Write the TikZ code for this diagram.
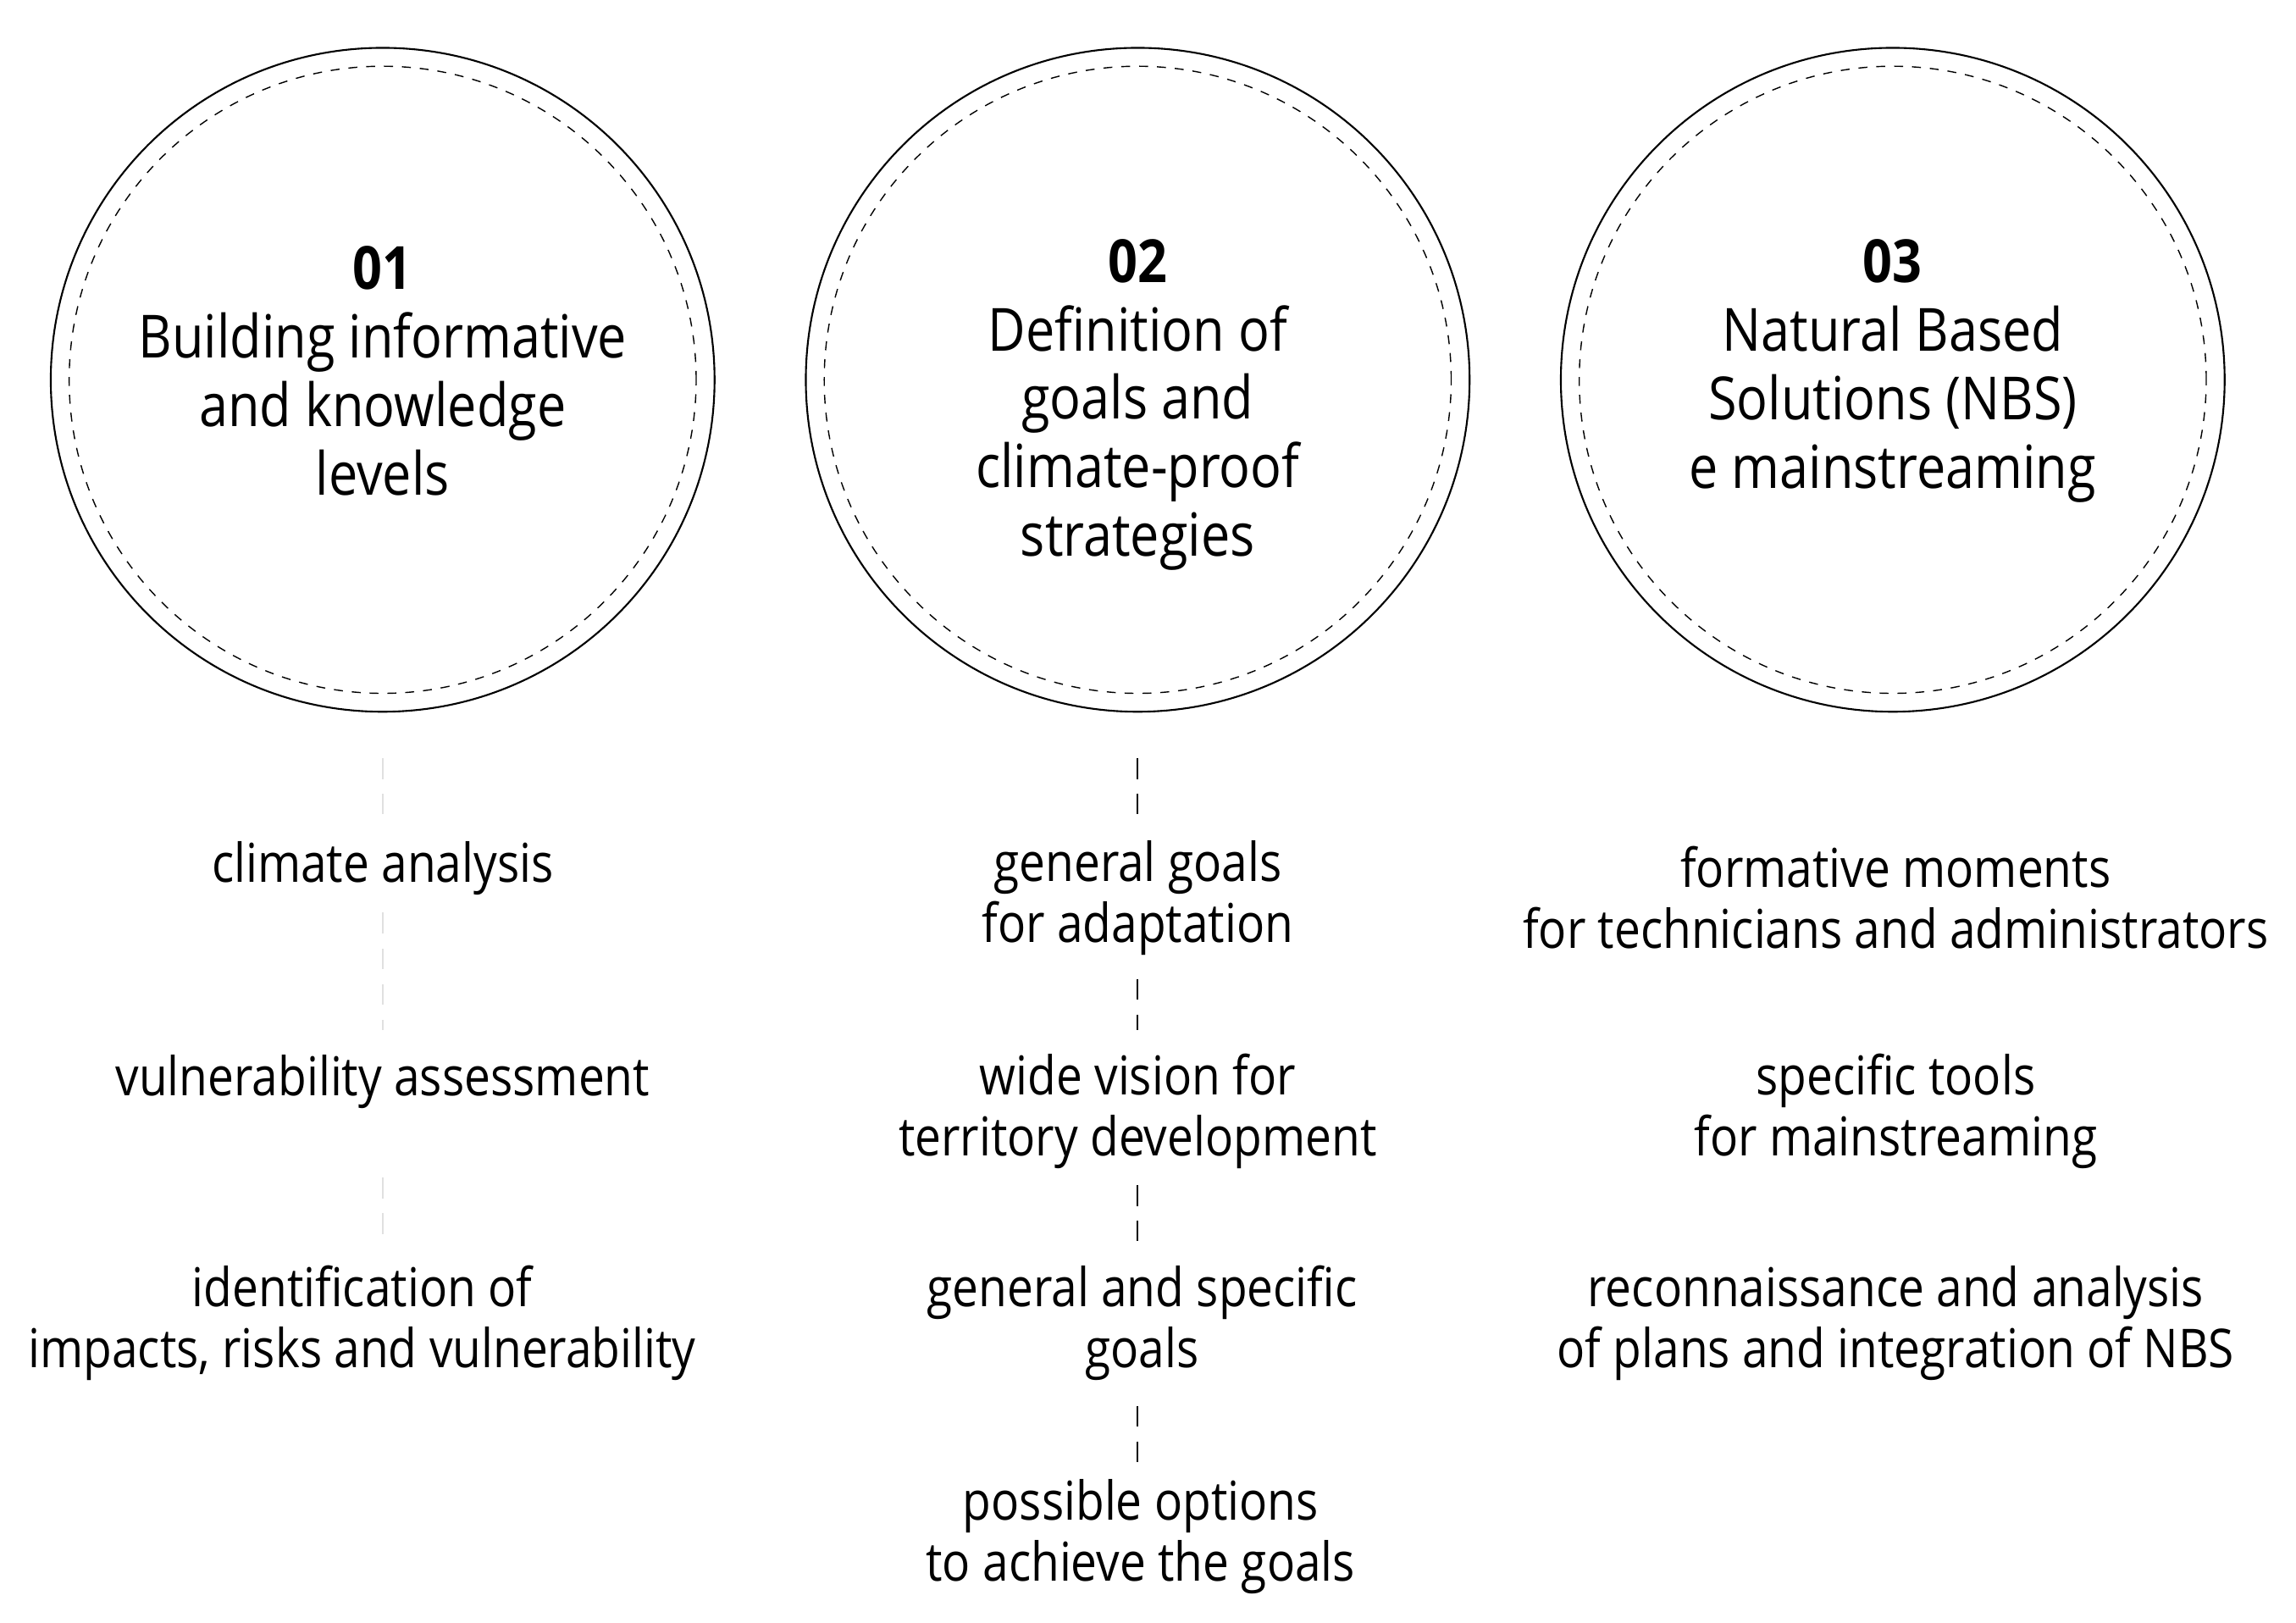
\documentclass[tikz,border=0pt]{standalone}
\usepackage{fontspec}
\setmainfont[FakeStretch=0.87]{Open Sans}
\usetikzlibrary{positioning}

\begin{document}
\begin{tikzpicture}[x=0.01738cm,y=-0.01738cm,
  ring/.style={circle,draw,line width=0.6pt,minimum size=451*0.01738cm,inner sep=0pt},
  inring/.style={circle,draw,dashed,line width=0.4pt,minimum size=426*0.01738cm,inner sep=0pt},
  head/.style={align=center,font=\fontsize{20}{23}\selectfont},
  item/.style={align=center,font=\fontsize{18}{20.5}\selectfont},
  link/.style={dashed,line width=0.5pt,dash pattern=on 7pt off 5pt},
  faint/.style={link,black!12}]
  \useasboundingbox (0,0) rectangle (1560,1102);
  % circles
  \foreach \n/\x in {1/260,2/773,3/1286}{
    \node[ring] (c\n) at (\x,258) {};
    \node[inring] at (\x,258) {};
  }
  \node[head] (h1) at (260,252) {\textbf{01}\\Building informative\\and knowledge\\levels};
  \node[head] (h2) at (773,275) {\textbf{02}\\Definition of\\goals and\\climate-proof\\strategies};
  \node[head] (h3) at (1286,252) {\textbf{03}\\Natural Based\\Solutions (NBS)\\e mainstreaming};
  % column 1
  \node[item] (a1) at (260,590) {climate analysis};
  \node[item] (a2) at (260,735) {vulnerability assessment};
  \node[item] (a3) at (246,899) {identification of\\impacts, risks and vulnerability};
  % column 2
  \node[item] (b1) at (773,610) {general goals\\for adaptation};
  \node[item] (b2) at (773,755) {wide vision for\\territory development};
  \node[item] (b3) at (776,899) {general and specific\\goals};
  \node[item] (b4) at (775,1044) {possible options\\to achieve the goals};
  % column 3
  \node[item] (d1) at (1288,610) {formative moments\\for technicians and administrators};
  \node[item] (d2) at (1288,755) {specific tools\\for mainstreaming};
  \node[item] (d3) at (1288,899) {reconnaissance and analysis\\of plans and integration of NBS};
  % links
  \draw[faint] (260,515) -- (260,553);
  \draw[faint] (260,620) -- (260,700);
  \draw[faint] (260,800) -- (260,843);
  \draw[link] (773,515) -- (773,553);
  \draw[link] (773,665) -- (773,700);
  \draw[link] (773,805) -- (773,843);
  \draw[link] (773,955) -- (773,993);
\end{tikzpicture}
\end{document}
